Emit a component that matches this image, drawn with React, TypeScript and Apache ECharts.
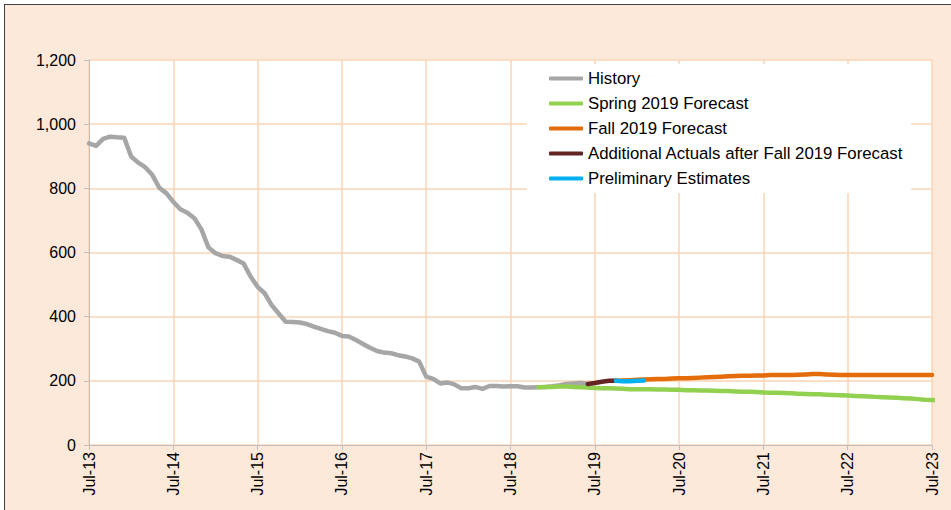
import React, { useEffect, useRef } from "react";
import * as echarts from "echarts";

// Monthly categories Jul-13 .. Jul-23
const monthNames = ["Jan", "Feb", "Mar", "Apr", "May", "Jun", "Jul", "Aug", "Sep", "Oct", "Nov", "Dec"];
const startYear = 2013;
const startMonth = 6; // July
const monthCount = 121;
const categories: string[] = [];
for (let i = 0; i < monthCount; i++) {
  const m = (startMonth + i) % 12;
  const y = startYear + Math.floor((startMonth + i) / 12);
  categories.push(monthNames[m] + "-" + String(y % 100).padStart(2, "0"));
}

// History: starts Jul-13 (index 0)
const historyStart = 0;
const historyValues = [
  940, 932, 954, 961, 959, 958, 899, 880, 866, 842, 802, 785,
  758, 735, 724, 707, 672, 616, 598, 589, 587, 577, 566, 525,
  493, 473, 436, 410, 384, 383, 382, 377, 369, 362, 355, 350,
  340, 338, 327, 315, 303, 293, 288, 286, 280, 276, 270, 260,
  213, 206, 192, 195, 189, 177, 177, 181, 175, 184, 184, 182,
  183, 183, 179, 179, 180, 181, 183, 186, 190, 192, 193, 190,
];

// Spring 2019 Forecast: starts Nov-18 (index 64)
const springStart = 64;
const springValues = [
  180, 181, 181, 182, 182, 181, 180, 179, 178, 177, 177, 176,
  175, 174, 174, 174, 174, 173, 173, 172, 172, 171, 171, 170,
  170, 169, 168, 168, 167, 166, 166, 165, 164, 163, 163, 162,
  161, 160, 159, 158, 158, 157, 156, 155, 154, 153, 152, 151,
  150, 149, 148, 147, 146, 145, 143, 141, 140, 138,
];

// Fall 2019 Forecast: starts Oct-19 (index 75)
const fallStart = 75;
const fallValues = [
  200, 201, 202, 203, 204, 205, 206, 206, 207, 208, 208, 209,
  210, 211, 212, 213, 214, 215, 216, 216, 217, 217, 218, 218,
  218, 218, 219, 220, 221, 221, 220, 219, 218, 218, 218, 218,
  218, 218, 218, 218, 218, 218, 218, 218, 218, 218,
];

// Additional Actuals after Fall 2019 Forecast: starts Jun-19 (index 71)
const actualsStart = 71;
const actualsValues = [190, 193, 197, 200, 200];

// Preliminary Estimates: starts Oct-19 (index 75)
const prelimStart = 75;
const prelimValues = [200, 199, 199, 200, 201];

const yTicks = [0, 200, 400, 600, 800, 1000, 1200];

function pad(start: number, values: number[]) {
  const arr: (number | null)[] = new Array(monthCount).fill(null);
  values.forEach((v, i) => {
    arr[start + i] = v;
  });
  return arr;
}

const FONT = "Liberation Sans, Arial, sans-serif";
const GRID_COLOR = "#FCD5B4";
const AXIS_COLOR = "#BFBFBF";

export default function App() {
  const ref = useRef<HTMLDivElement>(null);
  useEffect(() => {
    if (!ref.current) return;
    const chart = echarts.init(ref.current, undefined, { renderer: "svg" });
    const yearIdx = (i: number) => i % 12 === 0;
    const mk = (name: string, color: string, data: (number | null)[]) => ({
      name,
      type: "line",
      data,
      showSymbol: false,
      symbol: "none",
      connectNulls: false,
      lineStyle: { color, width: 4.5, cap: "round", join: "round" },
      itemStyle: { color },
    });
    chart.setOption({
      animation: false,
      backgroundColor: "transparent",
      grid: {
        left: 89,
        right: 19,
        top: 60,
        bottom: 65,
        show: true,
        backgroundColor: "#ffffff",
        borderWidth: 0,
      },
      legend: {
        orient: "vertical",
        left: 527,
        top: 64,
        padding: [6, 8, 6, 22],
        backgroundColor: "#ffffff",
        itemWidth: 34,
        itemHeight: 4,
        itemGap: 8,
        icon: "roundRect",
        textStyle: { fontFamily: FONT, fontSize: 16.8, color: "#000", lineHeight: 17 },
        data: [
          "History",
          "Spring 2019 Forecast",
          "Fall 2019 Forecast",
          "Additional Actuals after Fall 2019 Forecast",
          "Preliminary Estimates",
        ],
      },
      xAxis: {
        type: "category",
        data: categories,
        boundaryGap: false,
        axisLine: { show: true, lineStyle: { color: AXIS_COLOR, width: 1 } },
        axisTick: { show: true, interval: yearIdx, length: 5, lineStyle: { color: AXIS_COLOR } },
        axisLabel: {
          interval: yearIdx,
          rotate: 90,
          margin: 7,
          fontFamily: FONT,
          fontSize: 16,
          color: "#000",
        },
        splitLine: { show: true, interval: yearIdx, lineStyle: { color: GRID_COLOR, width: 1.5 } },
      },
      yAxis: {
        type: "value",
        min: yTicks[0],
        max: yTicks[yTicks.length - 1],
        interval: 200,
        axisLine: { show: true, lineStyle: { color: AXIS_COLOR, width: 1 } },
        axisTick: { show: true, length: 5, lineStyle: { color: AXIS_COLOR } },
        axisLabel: {
          margin: 13,
          fontFamily: FONT,
          fontSize: 16,
          color: "#000",
          formatter: (v: number) => v.toLocaleString("en-US"),
        },
        splitLine: { show: true, lineStyle: { color: GRID_COLOR, width: 1.5 } },
      },
      series: [
        mk("History", "#A6A6A6", pad(historyStart, historyValues)),
        mk("Spring 2019 Forecast", "#92D050", pad(springStart, springValues)),
        mk("Fall 2019 Forecast", "#E46C0A", pad(fallStart, fallValues)),
        mk("Additional Actuals after Fall 2019 Forecast", "#632523", pad(actualsStart, actualsValues)),
        mk("Preliminary Estimates", "#00B0F0", pad(prelimStart, prelimValues)),
      ],
    });
    return () => chart.dispose();
  }, []);

  return (
    <div
      style={{
        position: "absolute",
        left: 0,
        top: 0,
        width: 951,
        height: 510,
        overflow: "hidden",
        background: "#ffffff",
      }}
    >
      <div
        style={{
          position: "absolute",
          left: 4,
          top: 4,
          width: 1000,
          height: 600,
          border: "1.5px solid #404040",
          background: "#FDE9D9",
        }}
      />
      <div ref={ref} style={{ position: "absolute", left: 0, top: 0, width: 951, height: 510 }} />
    </div>
  );
}
